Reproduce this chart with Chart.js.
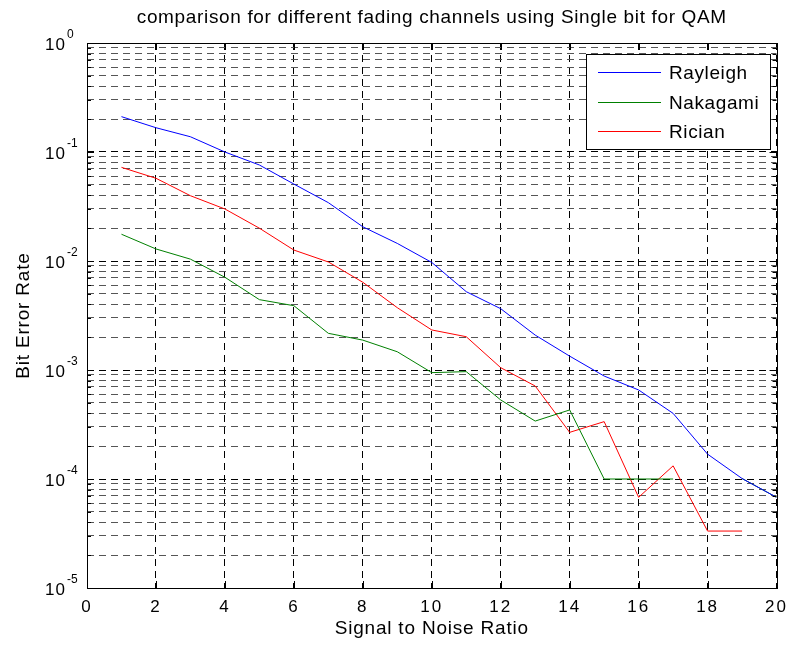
<!DOCTYPE html>
<html lang="en">
<head>
    <meta charset="UTF-8">
    <title>BER comparison</title>
    <script src="https://cdn.jsdelivr.net/npm/chart.js"></script>
    <style>
        body {
            margin: 0;
            padding: 0;
            background: #ffffff;
        }
        #wrap {
            width: 795px;
            height: 646px;
        }
    </style>
</head>
<body>
<div id="wrap"><canvas id="berChart" width="795" height="646"></canvas></div>
<script>
    // data
    const snr = [1, 2, 3, 4, 5, 6, 7, 8, 9, 10, 11, 12, 13, 14, 15, 16, 17, 18, 19, 20];
    const rayleigh = [0.211, 0.167, 0.138, 0.100, 0.076, 0.0508, 0.0343, 0.0206, 0.0145, 0.0097,
                      0.00523, 0.00365, 0.00209, 0.00134, 0.00088, 0.000656, 0.0004, 0.000169, 0.000101, 0.0000679];
    const nakagami = [0.0176, 0.0129, 0.0104, 0.00709, 0.00442, 0.00389, 0.00217, 0.00188, 0.00147, 0.000946,
                      0.000966, 0.000531, 0.00034, 0.00043, 0.0001, 0.0001, 0.0001, null, 0.000101, 0.0000679];
    const rician = [0.0723, 0.0574, 0.0397, 0.030, 0.020, 0.0126, 0.0098, 0.00638, 0.00373, 0.00233,
                    0.00202, 0.00105, 0.000713, 0.000268, 0.000336, 0.0000679, 0.000132, 0.0000333, 0.0000333, null];
    const seriesNames = ['Rayleigh', 'Nakagami', 'Rician'];
    const seriesColors = ['#0000ff', '#008000', '#ff0000'];
    const xTicks = [0, 2, 4, 6, 8, 10, 12, 14, 16, 18, 20];
    const yExponents = [0, -1, -2, -3, -4, -5];

    const titleText = 'comparison for different fading channels using Single bit for QAM';
    const xTitle = 'Signal to Noise Ratio';
    const yTitle = 'Bit Error Rate';
    const FONT = 'Arial, "Liberation Sans", sans-serif';

    function toPoints(vals) {
        return snr.map((x, i) => ({ x: x, y: vals[i] }));
    }

    // every decade plus its 2..9 multiples
    const logTicks = [];
    for (let e = -5; e <= 0; e++) {
        for (let m = 1; m <= 9; m++) {
            const v = m * Math.pow(10, e);
            if (v <= 1.0000001) logTicks.push(v);
        }
    }
    function isDecade(v) {
        const l = Math.log10(v);
        return Math.abs(l - Math.round(l)) < 1e-6;
    }

    const decorations = {
        id: 'decorations',
        beforeDraw(chart) {
            // matlab spreads its glyphs a bit wider
            chart.ctx.letterSpacing = '2px';
        },
        afterDraw(chart) {
            const ctx = chart.ctx;
            const area = chart.chartArea;
            const xs = chart.scales.x;
            const ys = chart.scales.y;
            ctx.save();
            ctx.setLineDash([]);

            // inner tick marks, both sides
            ctx.strokeStyle = '#000';
            ctx.lineWidth = 1;
            ctx.beginPath();
            xTicks.forEach(t => {
                const px = Math.round(xs.getPixelForValue(t)) + 0.5;
                ctx.moveTo(px, area.bottom); ctx.lineTo(px, area.bottom - 7);
                ctx.moveTo(px, area.top); ctx.lineTo(px, area.top + 7);
            });
            logTicks.forEach(v => {
                const py = Math.round(ys.getPixelForValue(v)) + 0.5;
                const len = isDecade(v) ? 7 : 4;
                ctx.moveTo(area.left, py); ctx.lineTo(area.left + len, py);
                ctx.moveTo(area.right, py); ctx.lineTo(area.right - len, py);
            });
            ctx.stroke();

            // axes box
            ctx.strokeRect(Math.round(area.left) + 0.5, Math.round(area.top) + 0.5,
                Math.round(area.right - area.left), Math.round(area.bottom - area.top));

            // y tick labels 10^n
            ctx.fillStyle = '#000';
            yExponents.forEach(e => {
                const py = ys.getPixelForValue(Math.pow(10, e));
                ctx.letterSpacing = '1px';
                ctx.font = '17px ' + FONT;
                ctx.textAlign = 'right';
                ctx.textBaseline = 'middle';
                ctx.fillText('10', 66, py + 2);
                ctx.letterSpacing = '0px';
                ctx.font = '12px ' + FONT;
                ctx.textAlign = 'left';
                ctx.textBaseline = 'alphabetic';
                ctx.fillText(String(e), 67, py - 5);
            });

            // title and axis titles
            const cx = (area.left + area.right) / 2;
            ctx.textAlign = 'center';
            ctx.textBaseline = 'middle';
            ctx.letterSpacing = '0.65px';
            ctx.font = '19px ' + FONT;
            ctx.fillText(titleText, cx, 18);
            ctx.letterSpacing = '0.8px';
            ctx.fillText(xTitle, cx, 629);
            ctx.save();
            ctx.translate(24, (area.top + area.bottom) / 2);
            ctx.rotate(-Math.PI / 2);
            ctx.fillText(yTitle, 0, 0);
            ctx.restore();

            // legend box
            const lx = 586, ly = 54, lw = 184, lh = 95;
            ctx.fillStyle = '#fff';
            ctx.fillRect(lx, ly, lw, lh);
            ctx.strokeStyle = '#000';
            ctx.lineWidth = 1;
            ctx.strokeRect(lx + 0.5, ly + 0.5, lw, lh);
            chart.data.datasets.forEach((ds, i) => {
                const ry = Math.round(72 + i * 29.5);
                ctx.fillStyle = seriesColors[i];
                ctx.fillRect(598, ry, 63, 1);
                ctx.fillStyle = '#000';
                ctx.letterSpacing = '0.6px';
                ctx.font = '19px ' + FONT;
                ctx.textAlign = 'left';
                ctx.textBaseline = 'middle';
                ctx.fillText(ds.label, 669, ry + 1.5);
            });
            ctx.restore();
        }
    };

    const allSeries = [rayleigh, nakagami, rician];

    new Chart(document.getElementById('berChart'), {
        type: 'line',
        data: {
            datasets: allSeries.map((vals, i) => ({
                label: seriesNames[i],
                data: toPoints(vals),
                borderColor: seriesColors[i],
                backgroundColor: seriesColors[i],
                borderWidth: 1,
                pointRadius: 0,
                tension: 0,
                spanGaps: false
            }))
        },
        options: {
            responsive: false,
            animation: false,
            layout: { padding: { left: 0, right: 15, top: 43, bottom: 0 } },
            plugins: {
                legend: { display: false },
                title: { display: false },
                tooltip: { enabled: false }
            },
            scales: {
                x: {
                    type: 'linear',
                    min: 0,
                    max: 20,
                    afterBuildTicks: s => { s.ticks = xTicks.map(v => ({ value: v })); },
                    afterFit: s => { s.height = 58; },
                    grid: { color: '#000', lineWidth: 1, drawTicks: false },
                    border: { display: false, dash: [7, 5] },
                    ticks: {
                        color: '#000',
                        font: { size: 17, family: FONT },
                        padding: 9,
                        maxRotation: 0
                    }
                },
                y: {
                    type: 'logarithmic',
                    min: 1e-5,
                    max: 1,
                    afterBuildTicks: s => { s.ticks = logTicks.map(v => ({ value: v })); },
                    afterFit: s => { s.width = 87; },
                    grid: {
                        color: ctx => isDecade(ctx.tick.value) ? '#000' : '#555',
                        lineWidth: 1,
                        drawTicks: false
                    },
                    border: { display: false, dash: [7, 5] },
                    ticks: { display: false }
                }
            }
        },
        plugins: [decorations]
    });
</script>
</body>
</html>
